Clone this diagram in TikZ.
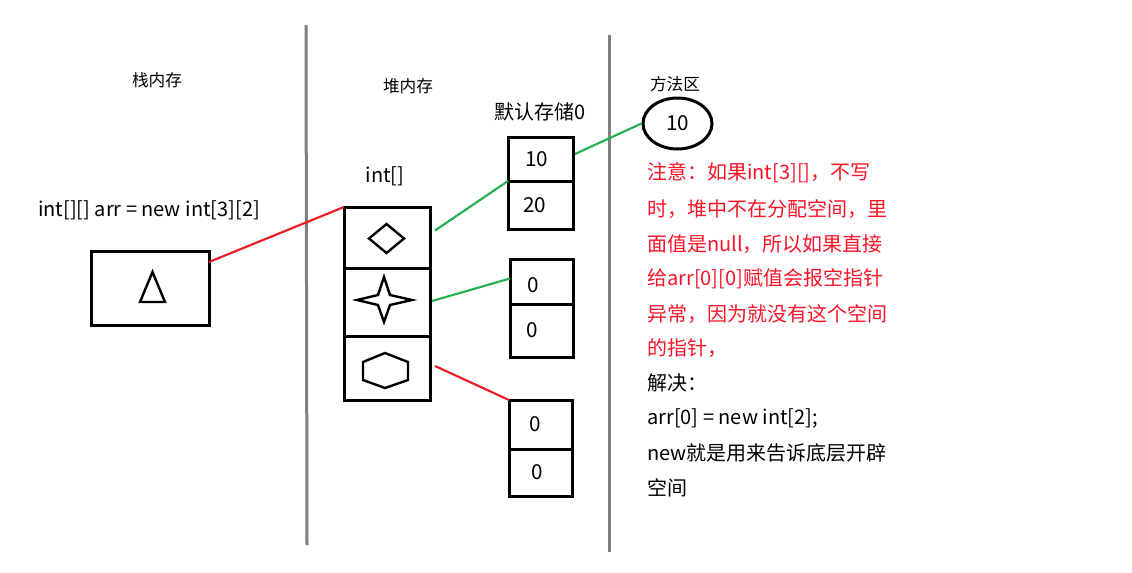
\documentclass[tikz,border=0pt]{standalone}
\usepackage{fontspec}
\setmainfont{Noto Sans CJK SC}
\usetikzlibrary{calc,shapes.geometric}
\definecolor{pred}{RGB}{237,28,36}
\definecolor{pgreen}{RGB}{34,177,76}
\definecolor{tred}{RGB}{250,20,40}
\definecolor{sepgray}{RGB}{128,128,128}
\tikzset{
  box/.style={draw=black,line width=2.25pt,inner sep=0pt,outer sep=0pt,font=\fontsize{15.5pt}{17pt}\selectfont},
  shp/.style={draw=black,line width=1.8pt,line join=miter},
  sep/.style={draw=sepgray,line width=2.25pt},
  redline/.style={draw=pred,line width=1.6pt},
  greenline/.style={draw=pgreen,line width=1.6pt},
  small/.style={font=\fontsize{12.5pt}{14pt}\selectfont,inner sep=0pt},
  big/.style={font=\fontsize{15pt}{17pt}\selectfont,inner sep=0pt},
  note/.style={font=\fontsize{15pt}{17pt}\selectfont,inner sep=0pt,anchor=west},
}
\begin{document}
\begin{tikzpicture}[x=0.75pt,y=-0.75pt]
\useasboundingbox (0,0) rectangle (1132,572);
% separators
\coordinate (s1a) at (306,25); \coordinate (s1b) at (307,545);
\coordinate (s2a) at (609,35); \coordinate (s2b) at (609,552);
\draw[sep] (s1a) -- (s1b);
\draw[sep] (s2a) -- (s2b);
% titles
\node[small] (t1) at (157,80) {栈内存};
\node[small] (t2) at (408,86) {堆内存};
\node[small] (t3) at (675,84) {方法区};
\node[big] (t4) at (540,112) {默认存储0};
\node[big] (t5) at (385,176) {int[]};
\node[big] (t6) at (149,210) {int[][] arr = new int[3][2]};
% stack box
\node[box,minimum width=88.5pt,minimum height=55.5pt] (stack) at (150,288) {};
\draw[shp] (152.5,272) -- (165,302) -- (140,302) -- cycle;
% heap array
\node[box,minimum width=64.5pt,minimum height=45.75pt] (h1) at (387,237.5) {};
\node[box,minimum width=64.5pt,minimum height=51pt] (h2) at (387,302) {};
\node[box,minimum width=64.5pt,minimum height=48pt] (h3) at (387,368) {};
\draw[shp] (369,238.5) -- (386.5,224) -- (404,238.5) -- (386.5,253) -- cycle;
\draw[shp] (357,300) -- (378,295) -- (384,277) -- (390,295) -- (412,300)
  -- (390,305) -- (384,322) -- (378,305) -- cycle;
\draw[shp] (363,362) -- (385,353) -- (408,362) -- (408,380) -- (385,388) -- (363,380) -- cycle;
% sub arrays
\node[box,minimum width=48.75pt,minimum height=33pt] (a1) at (540.5,159) {\hspace*{-6pt}10};
\node[box,minimum width=48.75pt,minimum height=36pt] (a2) at (540.5,205) {\hspace*{-9pt}20};
\node[box,minimum width=47.25pt,minimum height=33.75pt] (b1) at (541.5,281.5) {\rule{0pt}{17pt}\hspace*{-12pt}0};
\node[box,minimum width=47.25pt,minimum height=39.75pt] (b2) at (541.5,330.5) {\hspace*{-14pt}0};
\node[box,minimum width=47.25pt,minimum height=36.75pt] (c1) at (540.5,424.5) {\hspace*{-8pt}0};
\node[box,minimum width=47.25pt,minimum height=35.25pt] (c2) at (540.5,472.5) {\hspace*{-5pt}0};
% method area
\node[draw=black,line width=2.25pt,ellipse,minimum width=51.75pt,minimum height=38.25pt,inner sep=0pt,font=\fontsize{15.5pt}{17pt}\selectfont] (m) at (677.5,123.5) {10};
% connectors
\draw[redline] ($(stack.north east)+(0,11)$) -- (h1.north west);
\draw[greenline] ($(h1.east)+(5,-7)$) -- (a1.south west);
\draw[greenline] ($(h2.east)+(2,-1)$) -- ($(b1.west)+(0,-3)$);
\draw[redline] ($(h3.east)+(5,-2)$) -- (c1.north west);
\draw[greenline] ($(a1.east)+(2,-5)$) -- (m.west);
% notes
\node[note,text=tred] (n1) at (647,173) {注意：如果int[3][]，不写};
\node[note,text=tred] (n2) at (647,209) {时，堆中不在分配空间，里};
\node[note,text=tred] (n3) at (647,244) {面值是null，所以如果直接};
\node[note,text=tred] (n4) at (647,279) {给arr[0][0]赋值会报空指针};
\node[note,text=tred] (n5) at (647,314) {异常，因为就没有这个空间};
\node[note,text=tred] (n6) at (647,348) {的指针，};
\node[note] (n7) at (647,383) {解决：};
\node[note] (n8) at (647,418) {arr[0] = new int[2];};
\node[note] (n9) at (647,453) {new就是用来告诉底层开辟};
\node[note] (n10) at (647,488) {空间};
\end{tikzpicture}
\end{document}
